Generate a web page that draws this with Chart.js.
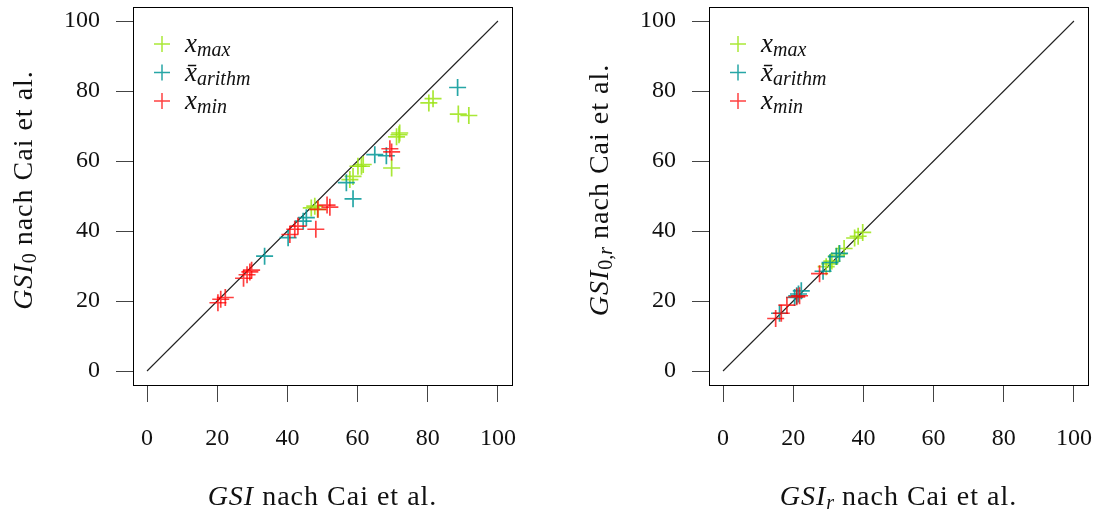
<!DOCTYPE html>
<html>
<head>
<meta charset="utf-8">
<script src="https://cdn.jsdelivr.net/npm/chart.js@4.4.1/dist/chart.umd.min.js"></script>
<style>
  html, body { margin: 0; padding: 0; background: #fff; }
  body { width: 1097px; height: 513px; position: relative; overflow: hidden; }
  canvas { position: absolute; top: 0; }
  #c1 { left: 0; }
  #c2 { left: 576px; }
</style>
</head>
<body>
<canvas id="c1" width="576" height="513"></canvas>
<canvas id="c2" width="521" height="513"></canvas>
<script>
// ---------------- DATA ----------------
const tickValues = [0, 20, 40, 60, 80, 100];
const diagonal = [[0, 0], [100, 100]];

// Left panel: GSI (x) vs GSI_0 (y)
const leftMax = [[46.8,46.6],[47.8,47.1],[48.6,46.2],[57.8,54.7],[58.7,55.6],[60.1,58.5],[61.1,58.5],[61.6,59.0],
                 [69.7,58.0],[71.1,66.9],[71.8,67.5],[72.0,68.0],[80.3,76.6],[81.5,77.8],[88.7,73.4],[91.7,73.0]];
const leftMean = [[33.5,32.8],[40.2,38.1],[44.5,42.8],[45.4,43.8],[56.8,53.8],[58.7,49.2],[64.9,61.8],[68.2,61.5],[88.5,81.0]];
const leftMin = [[20.2,19.5],[21.0,20.5],[22.3,21.0],[27.5,26.5],[28.5,27.5],[29.3,28.3],[29.8,28.8],[40.7,39.0],
                 [42.1,40.5],[43.0,41.4],[48.1,40.5],[48.7,46.2],[51.3,47.4],[52.1,46.8],[69.2,63.5],[69.7,62.6]];

// Right panel: GSI_r (x) vs GSI_0,r (y)
const rightMax = [[29.4,29.8],[30.4,30.6],[31.0,31.4],[32.3,32.8],[33.0,33.5],[34.5,35.0],[37.5,38.0],[38.5,38.5],[39.8,39.6]];
const rightMean = [[16.1,16.5],[20.4,21.0],[21.0,21.5],[21.5,22.0],[22.3,22.9],[28.5,28.5],[30.5,31.0],[32.3,32.7],[33.2,33.6]];
const rightMin = [[15.0,15.0],[16.6,16.5],[18.2,18.8],[21.0,21.2],[21.8,21.5],[27.5,27.8]];

// ---------------- STYLE ----------------
const colMax = 'rgba(155,228,20,0.85)';
const colMean = 'rgba(0,150,150,0.85)';
const colMin = 'rgba(255,0,0,0.75)';
const SERIF = '"Liberation Serif", "DejaVu Serif", serif';

function pts(arr) { return arr.map(p => ({ x: p[0], y: p[1] })); }

function setFont(ctx, p) {
  ctx.font = (p.it ? 'italic ' : '') + p.sz + 'px ' + SERIF;
  ctx.letterSpacing = (p.ls || 0) + 'px';
}

function drawRich(ctx, parts, x, y) {
  let total = 0;
  parts.forEach(p => { setFont(ctx, p); p.w = ctx.measureText(p.t).width; total += p.w; });
  let cx = x - total / 2;
  ctx.textAlign = 'left';
  ctx.textBaseline = 'alphabetic';
  parts.forEach(p => { setFont(ctx, p); ctx.fillText(p.t, cx, y + (p.dy || 0)); cx += p.w; });
  ctx.letterSpacing = '0px';
}

function drawLeftRich(ctx, parts, x, y) {
  let cx = x;
  ctx.textAlign = 'left';
  ctx.textBaseline = 'alphabetic';
  parts.forEach(p => { setFont(ctx, p); ctx.fillText(p.t, cx, y + (p.dy || 0)); cx += ctx.measureText(p.t).width; });
  ctx.letterSpacing = '0px';
}

function makeChart(id, dMax, dMean, dMin, xTitle, yTitle) {
  const canvas = document.getElementById(id);
  const W = canvas.width;
  const decor = {
    id: 'decor',
    afterDraw(chart) {
      const ctx = chart.ctx;
      const a = chart.chartArea;
      ctx.save();
      ctx.strokeStyle = '#000';
      ctx.lineWidth = 1;
      ctx.strokeRect(Math.round(a.left) + 0.5, Math.round(a.top) + 0.5,
                     Math.round(a.right - a.left), Math.round(a.bottom - a.top));
      ctx.fillStyle = '#111';
      drawRich(ctx, xTitle, (a.left + a.right) / 2, 505);
      ctx.save();
      ctx.translate(32, (a.top + a.bottom) / 2 - 6);
      ctx.rotate(-Math.PI / 2);
      drawRich(ctx, yTitle, 0, 0);
      ctx.restore();
      const items = [
        { c: colMax, parts: [{ t: 'x', it: true, sz: 27 }, { t: 'max', it: true, sz: 20, dy: 4 }] },
        { c: colMean, parts: [{ t: 'x\u0304', it: true, sz: 27 }, { t: 'arithm', it: true, sz: 20, dy: 4 }] },
        { c: colMin, parts: [{ t: 'x', it: true, sz: 27 }, { t: 'min', it: true, sz: 20, dy: 4 }] }
      ];
      const mx = a.left + 29, ys = [44, 72.5, 101];
      items.forEach((it, i) => {
        const y = ys[i];
        ctx.strokeStyle = it.c;
        ctx.lineWidth = 1.5;
        ctx.beginPath();
        ctx.moveTo(mx - 8, y); ctx.lineTo(mx + 8, y);
        ctx.moveTo(mx, y - 8); ctx.lineTo(mx, y + 8);
        ctx.stroke();
        ctx.fillStyle = '#111';
        drawLeftRich(ctx, it.parts, a.left + 52, y + 8);
      });
      ctx.restore();
    }
  };
  const noPad = s => { s.paddingTop = 0; s.paddingBottom = 0; s.paddingLeft = 0; s.paddingRight = 0; };
  const axisCommon = {
    type: 'linear',
    min: -4, max: 104,
    afterBuildTicks: s => { s.ticks = tickValues.map(v => ({ value: v })); },
    grid: { display: true, drawOnChartArea: false, drawTicks: true, tickLength: 17, color: '#444', lineWidth: 1 },
    border: { display: false },
    title: { display: false }
  };
  return new Chart(canvas, {
    type: 'scatter',
    data: {
      datasets: [
        { label: 'diag', data: pts(diagonal), showLine: true, borderColor: '#222', borderWidth: 1.1,
          pointRadius: 0, order: 4 },
        { label: 'x_max', data: pts(dMax), pointStyle: 'cross', pointRadius: 8.5, borderWidth: 1.7,
          borderColor: colMax, backgroundColor: colMax, order: 3 },
        { label: 'x_arithm', data: pts(dMean), pointStyle: 'cross', pointRadius: 8.5, borderWidth: 1.7,
          borderColor: colMean, backgroundColor: colMean, order: 2 },
        { label: 'x_min', data: pts(dMin), pointStyle: 'cross', pointRadius: 8.5, borderWidth: 1.7,
          borderColor: colMin, backgroundColor: colMin, order: 1 }
      ]
    },
    options: {
      responsive: false,
      animation: false,
      layout: { autoPadding: false, padding: { left: 0, top: 7, right: W - 512, bottom: 0 } },
      plugins: { legend: { display: false }, tooltip: { enabled: false } },
      scales: {
        x: Object.assign({}, axisCommon, {
          position: 'bottom',
          afterFit: s => { s.height = 128; noPad(s); },
          ticks: { padding: 22, color: '#111', font: { family: SERIF, size: 24 }, maxRotation: 0 }
        }),
        y: Object.assign({}, axisCommon, {
          position: 'left',
          afterFit: s => { s.width = 133; noPad(s); },
          ticks: { padding: 16, color: '#111', font: { family: SERIF, size: 24 } }
        })
      }
    },
    plugins: [decor]
  });
}

const T = 28, S = 20, LS = 1;
makeChart('c1', leftMax, leftMean, leftMin,
  [{ t: 'GSI', it: true, sz: T, ls: LS }, { t: ' nach Cai et al.', sz: T, ls: LS }],
  [{ t: 'GSI', it: true, sz: T, ls: LS }, { t: '0', sz: S, dy: 4 }, { t: ' nach Cai et al.', sz: T, ls: LS }]);
makeChart('c2', rightMax, rightMean, rightMin,
  [{ t: 'GSI', it: true, sz: T, ls: LS }, { t: 'r', it: true, sz: S, dy: 4 }, { t: ' nach Cai et al.', sz: T, ls: LS }],
  [{ t: 'GSI', it: true, sz: T, ls: LS }, { t: '0,', sz: S, dy: 4 }, { t: 'r', it: true, sz: S, dy: 4 }, { t: ' nach Cai et al.', sz: T, ls: LS }]);
</script>
</body>
</html>
